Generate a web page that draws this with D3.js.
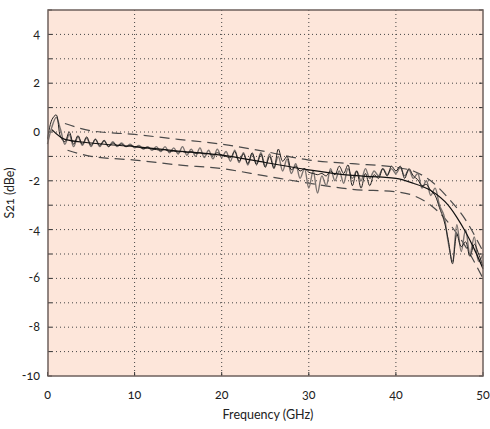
<!DOCTYPE html>
<html>
<head>
<meta charset="utf-8">
<script src="https://cdn.jsdelivr.net/npm/d3@7"></script>
<style>
body { margin: 0; background: #fff; }
text { font-family: Lato, "Open Sans", sans-serif; font-size: 12.5px; fill: #222; font-variant-numeric: oldstyle-nums; }
</style>
</head>
<body>
<div id="chart"></div>
<script>
// frequencies for the measured traces, 0.5 GHz steps
var freqs = d3.range(0, 50.01, 0.5);

var measGray = [-0.5, 0.2, 0.6, 0.1, -0.5, -0.1, -0.6, -0.2, -0.55, -0.25,
  -0.6, -0.3, -0.6, -0.35, -0.6, -0.4, -0.6, -0.45, -0.6, -0.5,
  -0.65, -0.55, -0.7, -0.6, -0.75, -0.6, -0.8, -0.6, -0.85, -0.65,
  -0.9, -0.6, -0.95, -0.7, -1.0, -0.65, -1.05, -0.75, -1.1, -0.7,
  -1.05, -0.8, -1.2, -0.75, -1.25, -0.85, -1.35, -0.9, -1.3, -0.85,
  -1.4, -0.9, -1.45, -1.0, -1.6, -1.1, -1.7, -1.3, -1.9, -1.5,
  -2.3, -1.6, -2.5, -1.8, -2.2, -1.5, -2.0, -1.6, -2.1, -1.5,
  -1.9, -1.6, -2.0, -1.5, -1.9, -1.6, -1.8, -1.5, -1.75, -1.5,
  -1.7, -1.45, -1.8, -1.55, -1.9, -1.7, -2.3, -2.0, -2.6, -2.3,
  -3.0, -3.4, -4.5, -5.3, -3.8, -4.9, -4.0, -5.0, -4.3, -5.3, -5.0];

var measBlack = [-0.3, 0.5, 0.7, -0.2, -0.4, 0.0, -0.5, -0.15, -0.5, -0.2,
  -0.55, -0.3, -0.55, -0.35, -0.6, -0.45, -0.55, -0.5, -0.6, -0.55,
  -0.6, -0.62, -0.68, -0.65, -0.7, -0.72, -0.75, -0.72, -0.8, -0.78,
  -0.82, -0.8, -0.85, -0.8, -0.88, -0.85, -0.9, -0.88, -0.95, -0.85,
  -0.95, -1.0, -1.05, -0.8, -1.2, -0.9, -1.3, -0.85, -1.35, -0.9,
  -1.45, -1.0, -1.5, -0.7, -1.2, -1.0, -1.55, -1.4, -1.6, -1.5,
  -1.65, -1.7, -1.75, -1.7, -1.8, -1.6, -1.75, -1.4, -1.7, -1.35,
  -2.2, -1.6, -2.3, -1.7, -2.2, -1.75, -1.9, -1.5, -1.8, -1.4,
  -1.6, -1.4, -1.9, -1.5, -1.8, -1.95, -2.2, -2.15, -2.4, -2.6,
  -3.1, -3.6, -4.4, -5.4, -4.2, -4.7, -4.5, -5.1, -4.6, -5.0, -5.5];

// fitted curve and limit lines
var fitFreq = [0.5, 2, 5, 10, 15, 20, 25, 30, 35, 40, 42, 44, 46, 47, 48, 49, 50];
var fitVal  = [0.1, -0.3, -0.45, -0.6, -0.78, -0.95, -1.25, -1.55, -1.78, -1.9, -2.1, -2.4, -3.0, -3.5, -4.1, -4.8, -5.6];

var upFreq = [2, 5, 10, 15, 20, 25, 30, 35, 40, 42, 44, 46, 48, 50];
var upVal  = [0.35, 0.05, -0.1, -0.3, -0.5, -0.8, -1.15, -1.3, -1.45, -1.6, -2.0, -2.7, -3.6, -4.9];

var loFreq = [2.3, 5, 10, 15, 20, 25, 30, 35, 40, 42, 44, 46, 48, 50];
var loVal  = [-0.75, -1.0, -1.15, -1.35, -1.5, -1.8, -2.1, -2.35, -2.45, -2.6, -3.0, -3.7, -4.7, -6.0];

var xTicks = [0, 10, 20, 30, 40, 50];
var yTicks = [4, 2, 0, -2, -4, -6, -8, -10];
var yGrid = d3.range(-10, 5.01, 1);

var width = 490, height = 429;
var pLeft = 48, pRight = 483, pTop = 10, pBottom = 376;

var svg = d3.select("#chart").append("svg").attr("width", width).attr("height", height);

var x = d3.scaleLinear().domain([0, 50]).range([pLeft - 0.5, pRight]);
var y = d3.scaleLinear().domain([-10, 5]).range([pBottom, pTop]);

svg.append("rect").attr("x", pLeft).attr("y", pTop).attr("width", pRight - pLeft).attr("height", pBottom - pTop).attr("fill", "#fde6da");

// grid
svg.selectAll(".hg").data(yGrid.filter(function(d){ return d > -10 && d < 5; })).enter().append("line")
  .attr("x1", pLeft).attr("x2", pRight)
  .attr("y1", function(d){ return y(d); }).attr("y2", function(d){ return y(d); })
  .attr("stroke", "#444").attr("stroke-width", 1).attr("stroke-dasharray", "1,3");
svg.selectAll(".vg").data(xTicks.filter(function(d){ return d > 0 && d < 50; })).enter().append("line")
  .attr("x1", function(d){ return x(d); }).attr("x2", function(d){ return x(d); })
  .attr("y1", pTop).attr("y2", pBottom)
  .attr("stroke", "#444").attr("stroke-width", 1).attr("stroke-dasharray", "1,3");

// ticks
svg.selectAll(".rt").data(yGrid).enter().append("line")
  .attr("x1", pRight - 4).attr("x2", pRight)
  .attr("y1", function(d){ return y(d); }).attr("y2", function(d){ return y(d); })
  .attr("stroke", "#333");
svg.selectAll(".lt").data(yGrid).enter().append("line")
  .attr("x1", pLeft).attr("x2", pLeft + 4)
  .attr("y1", function(d){ return y(d); }).attr("y2", function(d){ return y(d); })
  .attr("stroke", "#333");
svg.selectAll(".bt").data(xTicks).enter().append("line")
  .attr("x1", function(d){ return x(d); }).attr("x2", function(d){ return x(d); })
  .attr("y1", pBottom - 4).attr("y2", pBottom)
  .attr("stroke", "#333");

var line = d3.line().x(function(d){ return x(d[0]); }).y(function(d){ return y(d[1]); }).curve(d3.curveCatmullRom.alpha(0.5));
var smooth = d3.line().x(function(d){ return x(d[0]); }).y(function(d){ return y(d[1]); }).curve(d3.curveMonotoneX);

svg.append("path").datum(d3.zip(upFreq, upVal))
  .attr("d", smooth).attr("fill", "none").attr("stroke", "#4a4a4a").attr("stroke-width", 1.2).attr("stroke-dasharray", "10,6");
svg.append("path").datum(d3.zip(loFreq, loVal))
  .attr("d", smooth).attr("fill", "none").attr("stroke", "#4a4a4a").attr("stroke-width", 1.2).attr("stroke-dasharray", "10,6");

svg.append("path").datum(d3.zip(freqs, measGray))
  .attr("d", line).attr("fill", "none").attr("stroke", "#7a7370").attr("stroke-width", 1.4);
svg.append("path").datum(d3.zip(freqs, measBlack))
  .attr("d", line).attr("fill", "none").attr("stroke", "#222").attr("stroke-width", 1);
svg.append("path").datum(d3.zip(fitFreq, fitVal))
  .attr("d", smooth).attr("fill", "none").attr("stroke", "#111").attr("stroke-width", 1.2);

// frame
svg.append("rect").attr("x", pLeft).attr("y", pTop).attr("width", pRight - pLeft).attr("height", pBottom - pTop)
  .attr("fill", "none").attr("stroke", "#6e605c").attr("stroke-width", 1.5);

// labels
svg.selectAll(".yl").data(yTicks).enter().append("text")
  .attr("x", 40).attr("y", function(d){ return y(d) + 4; })
  .attr("text-anchor", "end").text(function(d){ return d; });
svg.selectAll(".xl").data(xTicks).enter().append("text")
  .attr("x", function(d){ return x(d); }).attr("y", 399)
  .attr("text-anchor", "middle").text(function(d){ return d; });

svg.append("text").attr("x", 268).attr("y", 419).attr("text-anchor", "middle").text("Frequency (GHz)");
svg.append("text").attr("transform", "translate(14,193) rotate(-90)").attr("text-anchor", "middle").text("S21 (dBe)");
</script>
</body>
</html>
